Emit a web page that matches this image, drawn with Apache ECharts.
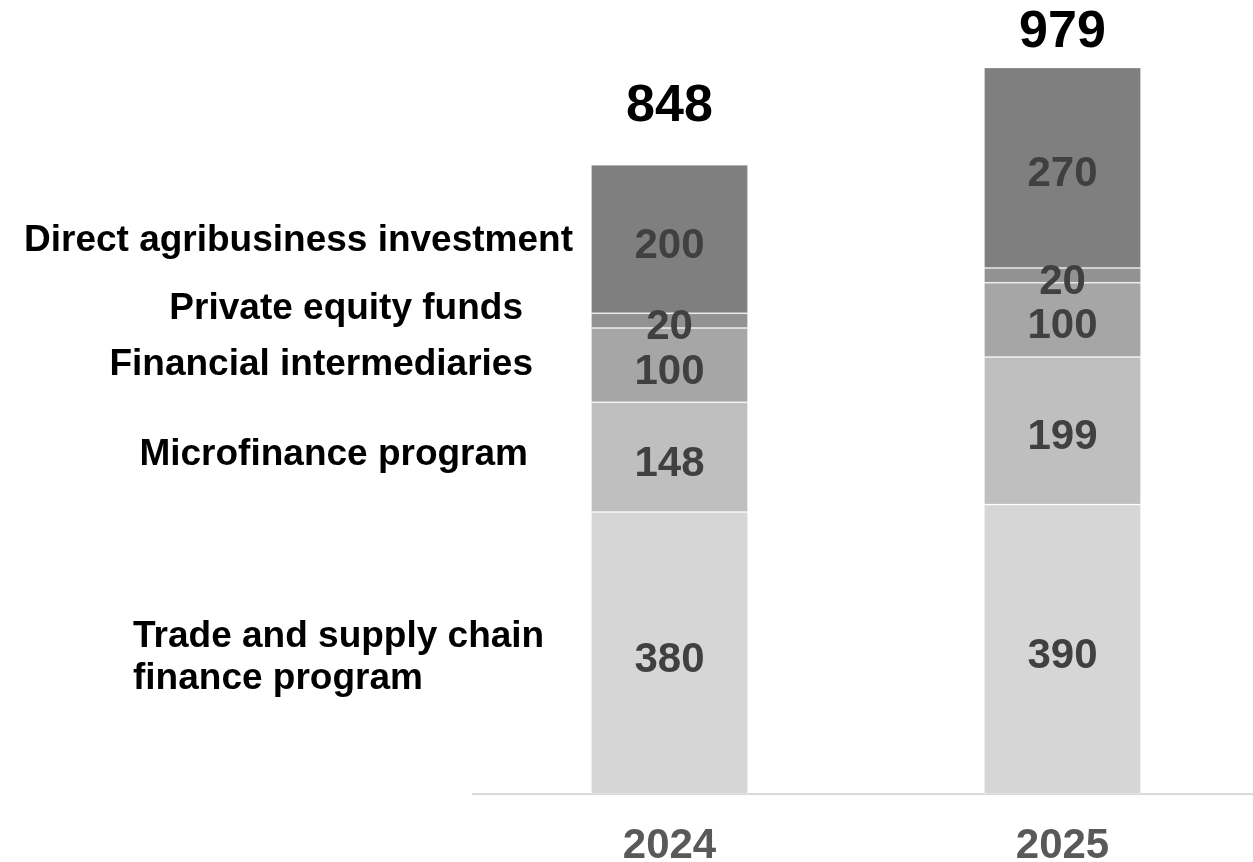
<!DOCTYPE html>
<html>
<head>
<meta charset="utf-8">
<script src="https://cdn.jsdelivr.net/npm/echarts@6/dist/echarts.min.js"></script>
<style>
  html, body { margin: 0; padding: 0; background: #fff; }
  #chart { width: 1253px; height: 862px; }
</style>
</head>
<body>
<div id="chart"></div>
<script>
// categories and segment values (bottom to top)
const years = ['2024', '2025']
const tradeFinance = [380, 390]
const microfinance = [148, 199]
const financialIntermediaries = [100, 100]
const privateEquity = [20, 20]
const directInvestment = [200, 270]
const totals = years.map((y, i) =>
  tradeFinance[i] + microfinance[i] + financialIntermediaries[i] + privateEquity[i] + directInvestment[i])

const font = '"Liberation Sans", Arial, sans-serif'
const sideFont = 'bold 37px ' + font

function segment (name, data, color) {
  return {
    name: name,
    type: 'bar',
    stack: 'total',
    data: data,
    barWidth: 157,
    itemStyle: { color: color, borderColor: 'rgba(255,255,255,0.25)', borderWidth: 1 },
    label: {
      show: true,
      position: 'inside',
      offset: [0, 7],
      color: '#404040',
      fontFamily: font,
      fontWeight: 'bold',
      fontSize: 42
    }
  }
}

// left-side category names, placed by hand like the slide text boxes
function sideLabel (text, x, baseline, align) {
  return {
    type: 'text',
    x: x,
    y: baseline - 12,
    style: { text: text, font: sideFont, fill: '#000', align: align, verticalAlign: 'middle', lineHeight: 42 }
  }
}

const chart = echarts.init(document.getElementById('chart'))
chart.setOption({
  animation: false,
  grid: { left: 473, width: 786, top: 52, bottom: 68, outerBoundsMode: 'none' },
  xAxis: {
    type: 'category',
    data: years,
    axisLine: { lineStyle: { color: '#d9d9d9', width: 2 } },
    axisTick: { show: false },
    axisLabel: {
      color: '#595959',
      fontFamily: font,
      fontWeight: 'bold',
      fontSize: 42,
      margin: 31
    }
  },
  yAxis: { type: 'value', min: 0, max: 1000, show: false },
  series: [
    segment('Trade and supply chain finance program', tradeFinance, '#d6d6d6'),
    segment('Microfinance program', microfinance, '#bfbfbf'),
    segment('Financial intermediaries', financialIntermediaries, '#a6a6a6'),
    segment('Private equity funds', privateEquity, '#929292'),
    segment('Direct agribusiness investment', directInvestment, '#7f7f7f'),
    {
      name: 'Total',
      type: 'bar',
      data: totals.map((v, i) => ({
        value: v,
        label: { distance: i === 0 ? 32 : 9 }
      })),
      barWidth: 157,
      barGap: '-100%',
      z: 1,
      itemStyle: { color: 'rgba(0,0,0,0)' },
      label: {
        show: true,
        position: 'top',
        color: '#000',
        fontFamily: font,
        fontWeight: 'bold',
        fontSize: 52
      }
    }
  ],
  graphic: [
    sideLabel('Direct agribusiness investment', 573, 253, 'right'),
    sideLabel('Private equity funds', 523, 321, 'right'),
    sideLabel('Financial intermediaries', 533, 377, 'right'),
    sideLabel('Microfinance program', 528, 467, 'right'),
    sideLabel('Trade and supply chain', 133, 649, 'left'),
    sideLabel('finance program', 133, 691, 'left')
  ]
})
</script>
</body>
</html>
